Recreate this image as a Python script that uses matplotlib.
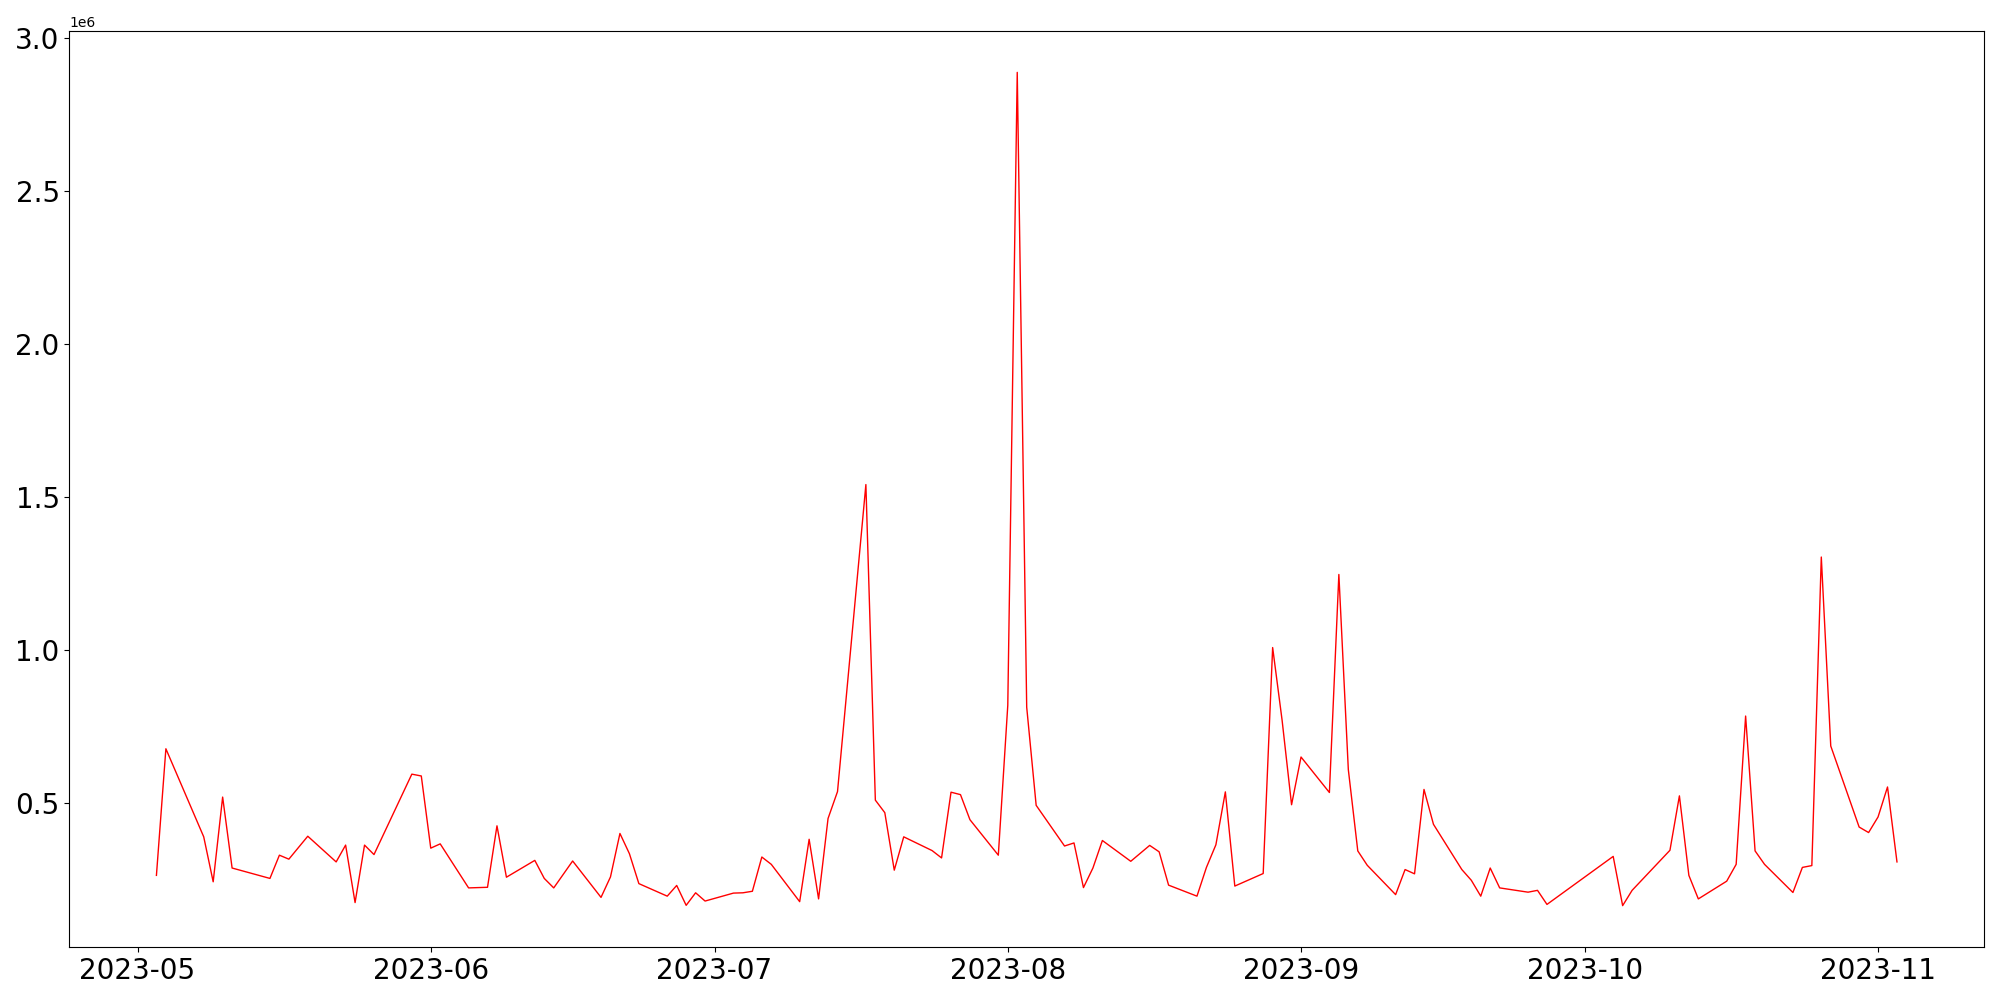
import matplotlib
matplotlib.use("Agg")
import matplotlib.pyplot as plt
import pandas as pd

dates = [
    "2023-05-03", "2023-05-04", "2023-05-08", "2023-05-09", "2023-05-10", "2023-05-11",
    "2023-05-15", "2023-05-16", "2023-05-17", "2023-05-19", "2023-05-22", "2023-05-23",
    "2023-05-24", "2023-05-25", "2023-05-26", "2023-05-30", "2023-05-31", "2023-06-01",
    "2023-06-02", "2023-06-05", "2023-06-07", "2023-06-08", "2023-06-09", "2023-06-12",
    "2023-06-13", "2023-06-14", "2023-06-16", "2023-06-19", "2023-06-20", "2023-06-21",
    "2023-06-22", "2023-06-23", "2023-06-26", "2023-06-27", "2023-06-28", "2023-06-29",
    "2023-06-30", "2023-07-03", "2023-07-04", "2023-07-05", "2023-07-06", "2023-07-07",
    "2023-07-10", "2023-07-11", "2023-07-12", "2023-07-13", "2023-07-14", "2023-07-17",
    "2023-07-18", "2023-07-19", "2023-07-20", "2023-07-21", "2023-07-24", "2023-07-25",
    "2023-07-26", "2023-07-27", "2023-07-28", "2023-07-31", "2023-08-01", "2023-08-02",
    "2023-08-03", "2023-08-04", "2023-08-07", "2023-08-08", "2023-08-09", "2023-08-10",
    "2023-08-11", "2023-08-14", "2023-08-16", "2023-08-17", "2023-08-18", "2023-08-21",
    "2023-08-22", "2023-08-23", "2023-08-24", "2023-08-25", "2023-08-28", "2023-08-29",
    "2023-08-30", "2023-08-31", "2023-09-01", "2023-09-04", "2023-09-05", "2023-09-06",
    "2023-09-07", "2023-09-08", "2023-09-11", "2023-09-12", "2023-09-13", "2023-09-14",
    "2023-09-15", "2023-09-18", "2023-09-19", "2023-09-20", "2023-09-21", "2023-09-22",
    "2023-09-25", "2023-09-26", "2023-09-27", "2023-10-04", "2023-10-05", "2023-10-06",
    "2023-10-10", "2023-10-11", "2023-10-12", "2023-10-13", "2023-10-16", "2023-10-17",
    "2023-10-18", "2023-10-19", "2023-10-20", "2023-10-23", "2023-10-24", "2023-10-25",
    "2023-10-26", "2023-10-27", "2023-10-30", "2023-10-31", "2023-11-01", "2023-11-02",
    "2023-11-03",
]

values_millions = [
    0.262, 0.676, 0.388, 0.241, 0.518, 0.286,
    0.252, 0.328, 0.315, 0.390, 0.306, 0.361,
    0.173, 0.361, 0.330, 0.593, 0.587, 0.351,
    0.365, 0.221, 0.223, 0.424, 0.256, 0.311,
    0.252, 0.221, 0.309, 0.190, 0.257, 0.399,
    0.333, 0.235, 0.194, 0.229, 0.164, 0.205,
    0.178, 0.204, 0.205, 0.210, 0.322, 0.298,
    0.176, 0.380, 0.185, 0.448, 0.536, 1.540,
    0.508, 0.467, 0.279, 0.388, 0.343, 0.319,
    0.534, 0.526, 0.444, 0.328, 0.818, 2.888,
    0.812, 0.491, 0.358, 0.368, 0.222, 0.286,
    0.376, 0.308, 0.360, 0.339, 0.230, 0.194,
    0.288, 0.362, 0.535, 0.227, 0.268, 1.007,
    0.769, 0.493, 0.649, 0.533, 1.246, 0.608,
    0.342, 0.295, 0.199, 0.281, 0.267, 0.543,
    0.429, 0.281, 0.246, 0.194, 0.286, 0.221,
    0.207, 0.213, 0.167, 0.324, 0.163, 0.213,
    0.344, 0.522, 0.262, 0.185, 0.243, 0.298,
    0.783, 0.342, 0.298, 0.206, 0.288, 0.294,
    1.303, 0.685, 0.420, 0.402, 0.453, 0.551,
    0.306,
]

x = pd.to_datetime(dates)
y = [v * 1e6 for v in values_millions]

fig, ax = plt.subplots(figsize=(20, 10), dpi=100)
ax.plot(x, y, color="red", linewidth=1.0)
ax.tick_params(axis="both", labelsize=20)
fig.subplots_adjust(left=0.0347, right=0.992, top=0.9693, bottom=0.0527)
fig.savefig("out.png", dpi=100)
